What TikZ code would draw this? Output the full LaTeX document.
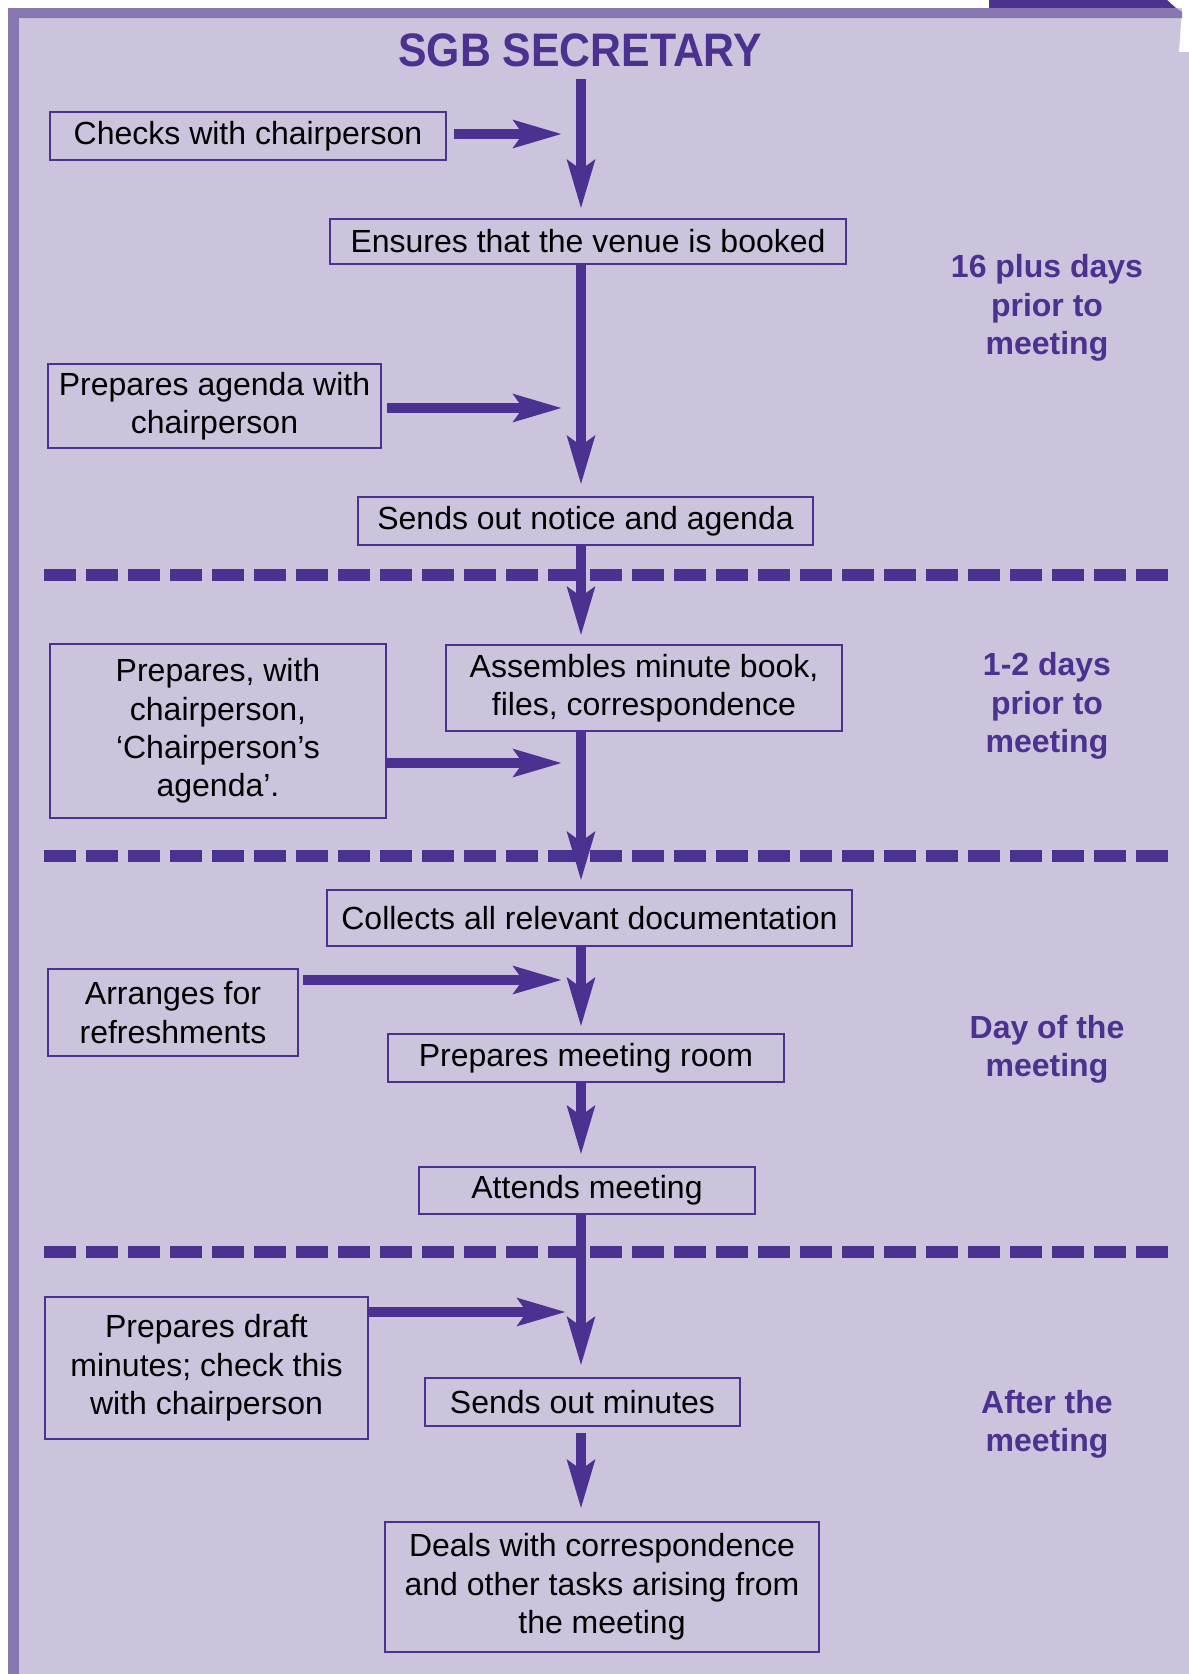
\documentclass[tikz,border=0pt]{standalone}
\usepackage{fontspec}
\setmainfont{Liberation Sans}
\newfontfamily\titlefont[FakeStretch=0.91]{Liberation Sans Bold}
\usetikzlibrary{arrows.meta}

\definecolor{sgbdark}{HTML}{4B3190}
\definecolor{sgbpage}{HTML}{CCC4DD}
\definecolor{sgbrim}{HTML}{8876B0}

\begin{document}
\begin{tikzpicture}[x=1pt, y=-1pt,
            task node/.style={draw=sgbdark, line width=2.7pt, text=black, align=center, inner sep=0pt, font=\fontsize{32}{38.4}\selectfont},
            side label/.style={text=sgbdark, align=center, font=\fontsize{32}{38.4}\selectfont\bfseries},
            flow arrow/.style={draw=sgbdark, line width=9.3pt, -{Stealth[length=48pt,width=27pt,inset=9pt]}},
            stage line/.style={draw=sgbdark, line width=11.3pt, dash pattern=on 32pt off 10pt},
            ]
            \useasboundingbox (0,0) rectangle (1189,1674);

            % page
            \fill[sgbpage] (8,8) -- (1182,8) -- (1179,52) -- (1189,52) -- (1189,1674) -- (8,1674) -- cycle;
            \fill[sgbdark] (989,0) -- (1167,0) -- (1176,8) -- (989,8) -- cycle;
            \fill[sgbrim] (8,8) -- (1176,8) -- (1182,12) -- (1182,18) -- (8,18) -- cycle;
            \fill[sgbrim] (8,8) rectangle (19,1674);

            \node[text=sgbdark, font=\titlefont\fontsize{47}{50}\selectfont, inner sep=0pt] (title) at (580,50) {SGB SECRETARY};
            \coordinate (spine) at (581,0);

            % stages
            \foreach \y in {575,856,1252}
                \draw[stage line] (44,\y) -- (1168,\y);

            \node[task node, minimum width=396pt, minimum height=48pt] (checks) at (248,136) {Checks with chairperson};
            \node[task node, minimum width=516pt, minimum height=45pt] (venue) at (588,241.5) {Ensures that the venue is booked};
            \node[task node, minimum width=333pt, minimum height=84pt] (agenda) at (214.5,406) {Prepares agenda with\\chairperson};
            \node[task node, minimum width=455pt, minimum height=48pt] (notice) at (585.5,521) {Sends out notice and agenda};
            \node[task node, minimum width=336pt, minimum height=174pt] (chairag) at (218,731) {Prepares, with\\chairperson,\\‘Chairperson’s\\agenda’.};
            \node[task node, minimum width=396pt, minimum height=86pt] (minute) at (644,688) {Assembles minute book,\\files, correspondence};
            \node[task node, minimum width=525pt, minimum height=56pt] (collect) at (589.5,918) {Collects all relevant documentation};
            \node[task node, minimum width=250pt, minimum height=87pt] (refresh) at (173,1012.5) {Arranges for\\refreshments};
            \node[task node, minimum width=396pt, minimum height=48pt] (room) at (586,1058) {Prepares meeting room};
            \node[task node, minimum width=336pt, minimum height=47pt] (attend) at (587,1190.5) {Attends meeting};
            \node[task node, minimum width=323pt, minimum height=142pt] (draft) at (206.5,1368) {Prepares draft\\minutes; check this\\with chairperson};
            \node[task node, minimum width=315pt, minimum height=48pt] (sendmin) at (582.5,1402) {Sends out minutes};
            \node[task node, minimum width=434pt, minimum height=130pt] (deals) at (602,1587) {Deals with correspondence\\and other tasks arising from\\the meeting};

            \node[side label] (stage1) at (1047,308) {16 plus days\\prior to\\meeting};
            \node[side label] (stage2) at (1047,706) {1-2 days\\prior to\\meeting};
            \node[side label] (stage3) at (1047,1049) {Day of the\\meeting};
            \node[side label] (stage4) at (1047,1424) {After the\\meeting};

            % main flow
            \draw[flow arrow, shorten <=12pt, shorten >=9pt] (title.south -| spine) -- (venue.north -| spine);
            \draw[flow arrow, shorten >=11pt] (venue.south -| spine) -- (notice.north -| spine);
            \draw[flow arrow, shorten >=8pt] (notice.south -| spine) -- (minute.north -| spine);
            \draw[flow arrow, shorten >=8pt] (minute.south -| spine) -- (collect.north -| spine);
            \draw[flow arrow, shorten >=6pt] (collect.south -| spine) -- (room.north -| spine);
            \draw[flow arrow, shorten >=11pt] (room.south -| spine) -- (attend.north -| spine);
            \draw[flow arrow, shorten >=11pt] (attend.south -| spine) -- (sendmin.north -| spine);
            \draw[flow arrow, shorten <=6pt, shorten >=12pt] (sendmin.south -| spine) -- (deals.north -| spine);

            % side inputs
            \coordinate (join1) at (562,134);
            \coordinate (join2) at (562,408);
            \coordinate (join3) at (562,763);
            \coordinate (join4) at (562,980);
            \coordinate (join5) at (566,1312);
            \draw[flow arrow, shorten <=7pt] (checks.east |- join1) -- (join1);
            \draw[flow arrow, shorten <=5pt] (agenda.east |- join2) -- (join2);
            \draw[flow arrow] (chairag.east |- join3) -- (join3);
            \draw[flow arrow, shorten <=4pt] (refresh.east |- join4) -- (join4);
            \draw[flow arrow] (draft.east |- join5) -- (join5);
\end{tikzpicture}
\end{document}
